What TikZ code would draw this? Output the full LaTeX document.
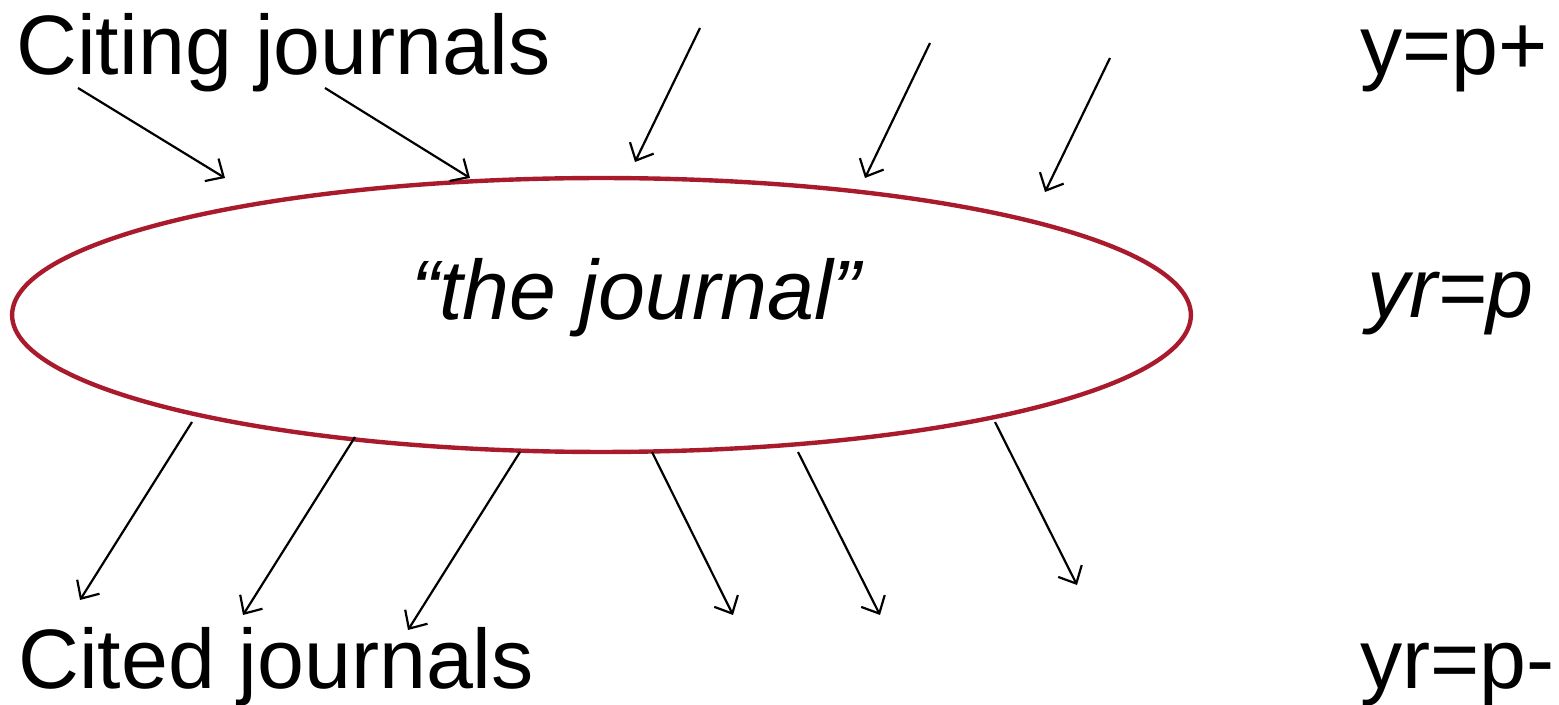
\documentclass[tikz,border=0pt]{standalone}
\usepackage{fontspec}
\setmainfont{Liberation Sans}
\usetikzlibrary{arrows.meta, shapes.geometric}
\definecolor{journalred}{RGB}{168,26,44}

\begin{document}
\begin{tikzpicture}[x=0.02cm, y=-0.02cm]
      % Styles
      \tikzset{label/.style={inner sep=0pt, font=\fontsize{48}{56}\selectfont}}
      \tikzset{journal/.style={draw=journalred, line width=2.5pt, ellipse, minimum width=23.58cm, minimum height=5.48cm}}
      \tikzset{ref/.style={-{Straight Barb[length=8pt, width=15pt]}, line width=1.25pt}}
      \useasboundingbox (0,0) rectangle (1559,705);

      % --- The journal in the middle ---
      \node[journal] (journal) at (601.5,315) {};
      \node[label, anchor=base] (name) at (636,320) {\itshape ``the journal''};

      % --- Labels on the left ---
      \node[label, anchor=base west] (citing) at (16,75) {Citing journals};
      \node[label, anchor=base west] (cited) at (18,688) {Cited journals};

      % --- Years on the right ---
      \node[label, anchor=base west] (yplus) at (1360,75) {y=p+};
      \node[label, anchor=base west] (yr) at (1367,318) {\itshape yr=p};
      \node[label, anchor=base west] (yminus) at (1360,688) {yr=p-};

      % --- Citations coming in ---
      \foreach \n/\sx/\sy/\ex/\ey in {1/78/88/225/178, 2/325/88/470/178, 3/700/28/635/162,
                                     4/930/43/865/178, 5/1110/58/1045/192} {
        \coordinate (in\n) at (\sx,\sy);
        \coordinate (inend\n) at (\ex,\ey);
        \draw[ref] (in\n) -- (inend\n);
      }

      % --- References going out ---
      \foreach \n/\sx/\sy/\ex/\ey in {1/192/422/80/600, 2/355/437/243/615, 3/520/452/408/630,
                                     4/652/452/733/615, 5/798/452/880/615, 6/995/422/1077/585} {
        \coordinate (out\n) at (\sx,\sy);
        \coordinate (outend\n) at (\ex,\ey);
        \draw[ref] (out\n) -- (outend\n);
      }
\end{tikzpicture}
\end{document}
